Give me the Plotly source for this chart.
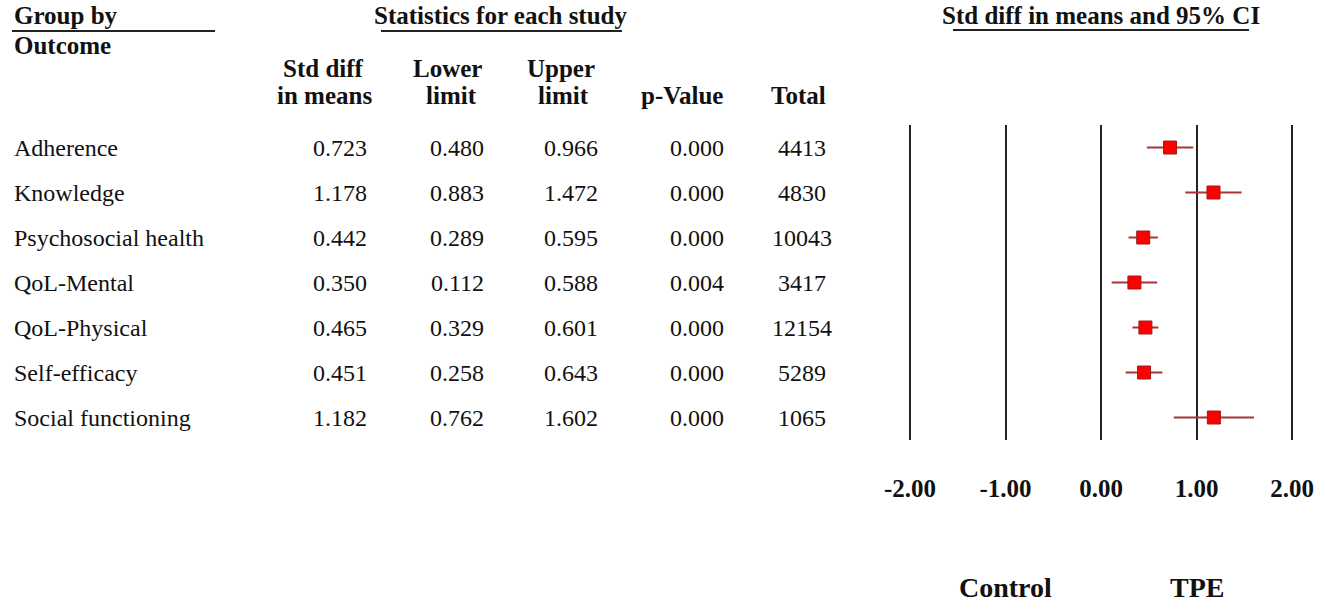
import plotly.graph_objects as go

# forest plot data
outcomes = [
    "Adherence",
    "Knowledge",
    "Psychosocial health",
    "QoL-Mental",
    "QoL-Physical",
    "Self-efficacy",
    "Social functioning",
]
std_diff = [0.723, 1.178, 0.442, 0.350, 0.465, 0.451, 1.182]
lower = [0.480, 0.883, 0.289, 0.112, 0.329, 0.258, 0.762]
upper = [0.966, 1.472, 0.595, 0.588, 0.601, 0.643, 1.602]
p_values = [0.000, 0.000, 0.000, 0.004, 0.000, 0.000, 0.000]
totals = [4413, 4830, 10043, 3417, 12154, 5289, 1065]

tick_vals = [-2, -1, 0, 1, 2]
tick_text = ["-2.00", "-1.00", "0.00", "1.00", "2.00"]

W, H = 1325, 614
FONT = "Liberation Serif, Times New Roman, serif"


def px(x):
    return x / W


def py(y):
    return 1 - y / H


# x axis: -2..2 spans pixels 910..1292
unit = (1292 - 910) / 4
x_pad = 0.1
x_dom = [px(910 - x_pad * unit), px(1292 + x_pad * unit)]
y_dom = [py(440), py(125)]

fig = go.Figure()
fig.add_trace(
    go.Scatter(
        x=std_diff,
        y=outcomes,
        mode="markers",
        marker=dict(symbol="square", size=13, color="#ff0000",
                    line=dict(color="#9b1c1c", width=1)),
        error_x=dict(
            type="data",
            symmetric=False,
            array=[u - e for u, e in zip(upper, std_diff)],
            arrayminus=[e - l for e, l in zip(std_diff, lower)],
            color="#a83434",
            thickness=2,
            width=0,
        ),
        showlegend=False,
        hoverinfo="skip",
    )
)

annotations = []

# row labels and table values
col_x = [340, 457, 571, 697, 802]
for i, name in enumerate(outcomes):
    annotations.append(dict(x=px(12), y=name, xref="paper", yref="y", text=name,
                            xanchor="left", showarrow=False,
                            font=dict(family=FONT, size=24, color="#111")))
    vals = [f"{std_diff[i]:.3f}", f"{lower[i]:.3f}", f"{upper[i]:.3f}",
            f"{p_values[i]:.3f}", str(totals[i])]
    for cx, v in zip(col_x, vals):
        annotations.append(dict(x=px(cx), y=name, xref="paper", yref="y", text=v,
                                xanchor="center", showarrow=False,
                                font=dict(family=FONT, size=24, color="#111")))

# headers
headers = [
    ("Group by", 12, 15, "left"),
    ("Outcome", 12, 45, "left"),
    ("Statistics for each study", 501, 15, "center"),
    ("Std diff", 323, 68, "center"),
    ("in means", 324, 96, "center"),
    ("Lower", 447, 68, "center"),
    ("limit", 451, 96, "center"),
    ("Upper", 561, 68, "center"),
    ("limit", 563, 96, "center"),
    ("p-Value", 682, 96, "center"),
    ("Total", 798, 96, "center"),
    ("Std diff in means and 95% CI", 1101, 15, "center"),
]
for text, x, y, anchor in headers:
    annotations.append(dict(x=px(x), y=py(y), xref="paper", yref="paper", text=f"<b>{text}</b>",
                            xanchor=anchor, yanchor="middle", showarrow=False,
                            font=dict(family=FONT, size=25, color="#111")))

# favours labels
for text, xv in [("Control", -1), ("TPE", 1)]:
    annotations.append(dict(x=xv, y=py(587), xref="x", yref="paper", text=f"<b>{text}</b>",
                            xanchor="center", yanchor="middle", showarrow=False,
                            font=dict(family=FONT, size=28, color="#111")))

# header underlines
shapes = []
for x0, x1, y in [(12, 215, 31), (381, 622, 31), (953, 1249, 30)]:
    shapes.append(dict(type="line", xref="paper", yref="paper",
                       x0=px(x0), x1=px(x1), y0=py(y), y1=py(y),
                       line=dict(color="#222", width=2)))

fig.update_layout(
    width=W,
    height=H,
    margin=dict(l=0, r=0, t=0, b=0, autoexpand=False),
    paper_bgcolor="white",
    plot_bgcolor="white",
    annotations=annotations,
    shapes=shapes,
    xaxis=dict(
        domain=x_dom,
        range=[-2 - x_pad, 2 + x_pad],
        tickvals=tick_vals,
        ticktext=[f"<b>{t}</b>" for t in tick_text],
        tickfont=dict(family=FONT, size=25, color="#111"),
        ticks="",
        ticklabelstandoff=31,
        showgrid=True,
        gridcolor="#222",
        gridwidth=2,
        zeroline=False,
        showline=False,
        automargin=False,
        fixedrange=True,
    ),
    yaxis=dict(
        domain=y_dom,
        type="category",
        categoryarray=outcomes,
        range=[len(outcomes) - 0.5, -0.5],
        showticklabels=False,
        showgrid=False,
        zeroline=False,
        ticks="",
        automargin=False,
        fixedrange=True,
    ),
)

# drop the default 8px body margin so the figure fills the window exactly
fig.write_html("out.html", config={"displayModeBar": False},
               post_script="document.body.style.margin='0';")
